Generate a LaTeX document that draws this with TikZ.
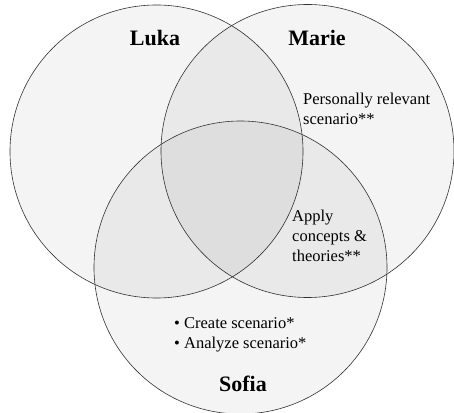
\documentclass[tikz,border=0pt]{standalone}
\usepackage{fontspec}
\setmainfont{Liberation Serif}
\begin{document}
\begin{tikzpicture}[x=1pt,y=1pt,
  setcircle/.style={circle, draw=black!80, line width=0.6pt, fill=black, fill opacity=0.045, draw opacity=1, minimum size=293pt, inner sep=0pt},
  namelabel/.style={font=\fontsize{22}{26}\selectfont\bfseries, inner sep=0pt},
  notelabel/.style={font=\fontsize{16.5}{20}\selectfont, align=left, inner sep=0pt, anchor=base west}]
  \useasboundingbox (0,0) rectangle (454,412);
  \fill[white] (0,0) rectangle (454,412);
  % the three sets
  \node[setcircle] (luka)  at (156.5,260.5) {};
  \node[setcircle] (marie) at (307.5,261) {};
  \node[setcircle] (sofia) at (240.5,144.5) {};
  % set names
  \node[namelabel] (lukaname)  at (155,374) {Luka};
  \node[namelabel] (mariename) at (317,374) {Marie};
  \node[namelabel] (sofianame) at (243,28) {Sofia};
  % notes inside the regions (anchored at the baseline of the last line)
  \node[notelabel] (relevant) at (303,287) {Personally relevant\\scenario**};
  \node[notelabel] (apply) at (292,150) {Apply\\concepts \&\\theories**};
  \node[notelabel] (scen) at (174,64) {\textbullet\ Create scenario*\\\textbullet\ Analyze scenario*};
\end{tikzpicture}
\end{document}
